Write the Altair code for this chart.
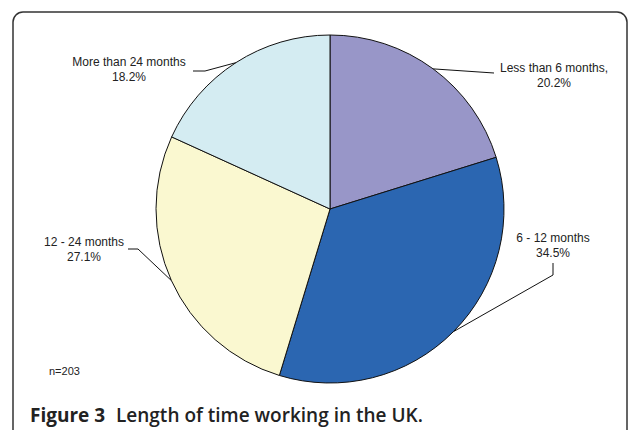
import altair as alt
import numpy as np
import pandas as pd

# ---- data ----
categories = ["Less than 6 months,", "6 - 12 months", "12 - 24 months", "More than 24 months"]
percent = [20.2, 34.5, 27.1, 18.2]
colors = ["#9896C8", "#2B66B1", "#FAF8D0", "#D4ECF2"]
sample_note = "n=203"
title_bold = "Figure 3"
title_rest = "Length of time working in the UK."

# ---- layout ----
W, H = 635, 430
CX, CY, R = 330, 209, 174
FONT = "Liberation Sans"

df = pd.DataFrame({"cat": categories, "pct": percent, "order": list(range(len(categories)))})

# angles (clockwise from 12 o'clock) derived from the data
cum = np.cumsum(percent)
mid = (cum - np.array(percent) / 2) / 100.0 * 2 * np.pi
edge_x = CX + R * np.sin(mid)
edge_y = CY - R * np.cos(mid)

# label anchor (text centre) and leader-line elbow points, per category
label_pos = {
    0: (554, 68),
    1: (553, 238),
    2: (84, 242),
    3: (129, 62),
}
elbows = {
    0: [(494, 73)],
    1: [(553, 275), (553, 263)],
    2: [(138, 249), (128, 249)],
    3: [(205, 71), (193, 71)],
}

line_rows = []
for i, c in enumerate(categories):
    pts = [(edge_x[i], edge_y[i])] + elbows[i]
    for k, (px, py) in enumerate(pts):
        line_rows.append({"cat": c, "k": k, "px": px, "py": py})
lines_df = pd.DataFrame(line_rows)

text_rows = []
for i, c in enumerate(categories):
    lx, ly = label_pos[i]
    text_rows.append({"t": c, "px": lx, "py": ly})
    text_rows.append({"t": f"{percent[i]}%", "px": lx, "py": ly + 15})
text_df = pd.DataFrame(text_rows)

xs = alt.Scale(domain=[0, W], range=[0, W])
ys = alt.Scale(domain=[0, H], range=[0, H])

pie = alt.Chart(df).mark_arc(radius=R, stroke="#111111", strokeWidth=1).encode(
    theta=alt.Theta("pct:Q", stack=True),
    order=alt.Order("order:Q"),
    color=alt.Color("cat:N", scale=alt.Scale(domain=categories, range=colors), legend=None),
    x=alt.value(CX),
    y=alt.value(CY),
)

leaders = alt.Chart(lines_df).mark_line(color="#111111", strokeWidth=1).encode(
    x=alt.X("px:Q", scale=xs, axis=None),
    y=alt.Y("py:Q", scale=ys, axis=None),
    detail="cat:N",
    order="k:Q",
)

labels = alt.Chart(text_df).mark_text(
    font=FONT, fontSize=12, color="#222222", align="center", baseline="middle"
).encode(
    x=alt.X("px:Q", scale=xs, axis=None),
    y=alt.Y("py:Q", scale=ys, axis=None),
    text="t:N",
)

frame = alt.Chart(pd.DataFrame({"a": [0]})).mark_rect(
    fill=None, stroke="#333333", strokeWidth=1.5, cornerRadius=10
).encode(
    x=alt.value(13), x2=alt.value(627), y=alt.value(12), y2=alt.value(470)
)

note = alt.Chart(pd.DataFrame({"t": [sample_note]})).mark_text(
    font=FONT, fontSize=11, color="#222222", align="left", baseline="middle"
).encode(x=alt.value(49), y=alt.value(372), text="t:N")

t1 = alt.Chart(pd.DataFrame({"t": [title_bold]})).mark_text(
    font="Open Sans", fontSize=19, fontWeight="bold", color="#222222", align="left",
    baseline="alphabetic"
).encode(x=alt.value(30), y=alt.value(422), text="t:N")

t2 = alt.Chart(pd.DataFrame({"t": [title_rest]})).mark_text(
    font="Open Sans", fontSize=19, fontWeight=600, color="#222222", align="left",
    baseline="alphabetic"
).encode(x=alt.value(116), y=alt.value(422), text="t:N")

chart = alt.layer(frame, pie, leaders, labels, note, t1, t2).properties(
    width=W, height=H, padding=0, autosize=alt.AutoSizeParams(type="none"), background="white"
).configure_view(stroke=None)

chart.save("out.html", embed_options={"renderer": "svg", "actions": False})
